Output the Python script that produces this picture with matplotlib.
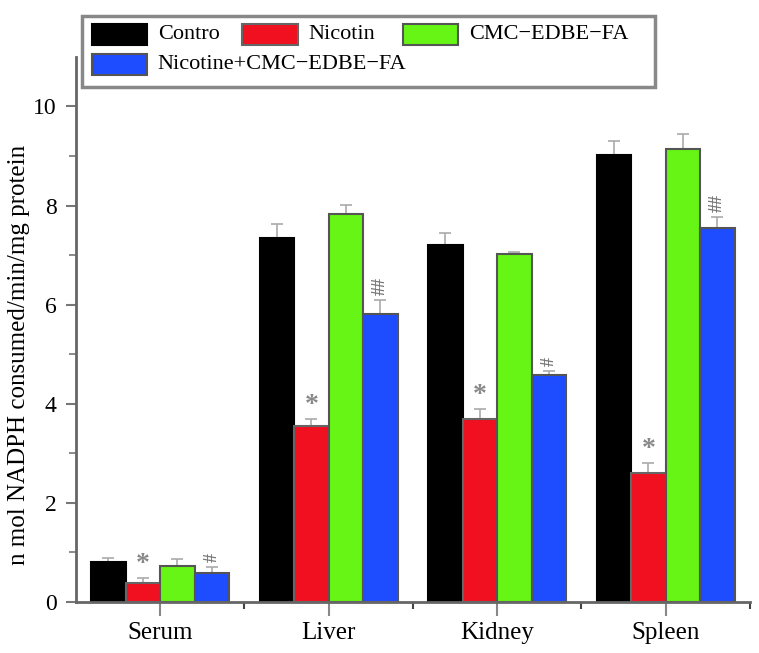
import matplotlib.pyplot as plt
import matplotlib.patches as mpatches
import numpy as np

plt.rcParams['font.family'] = ['Liberation Serif', 'DejaVu Serif']

tissues = ['Serum', 'Liver', 'Kidney', 'Spleen']
groups = ['Contro', 'Nicotin', 'CMC\u2212EDBE\u2212FA', 'Nicotine+CMC\u2212EDBE\u2212FA']
colors = ['#000000', '#f01020', '#66f514', '#1e4cff']

control = [0.80, 7.35, 7.20, 9.02]
nicotin = [0.38, 3.55, 3.70, 2.60]
cmc = [0.72, 7.82, 7.02, 9.15]
nic_cmc = [0.58, 5.82, 4.58, 7.55]

control_err = [0.08, 0.28, 0.25, 0.28]
nicotin_err = [0.10, 0.15, 0.20, 0.20]
cmc_err = [0.15, 0.20, 0.05, 0.30]
nic_cmc_err = [0.12, 0.28, 0.08, 0.22]

nicotin_marks = ['*', '*', '*', '*']
nic_cmc_marks = ['#', '##', '#', '##']

values = [control, nicotin, cmc, nic_cmc]
errors = [control_err, nicotin_err, cmc_err, nic_cmc_err]

fig = plt.figure(figsize=(7.59, 6.53), dpi=100)
ax = fig.add_axes([0.100, 0.078, 0.888, 0.835])

x = np.arange(len(tissues))
w = 0.205
edges = ['#000000', '#666666', '#555555', '#555555']
for i, (vals, errs) in enumerate(zip(values, errors)):
    pos = x + (i - 1.5) * w
    ax.bar(pos, vals, w, color=colors[i], edgecolor=edges[i], linewidth=1.5, zorder=2)
    ax.errorbar(pos, vals, yerr=[np.zeros(len(vals)), errs], fmt='none',
                ecolor='#aaaaaa', elinewidth=1.2, capsize=4, capthick=1.2, zorder=1)

for j in range(len(tissues)):
    px = x[j] - 0.5 * w
    ax.text(px, nicotin[j] + nicotin_err[j] + 0.02, nicotin_marks[j], ha='center',
            va='bottom', fontsize=20, color='#888888', fontweight='bold')
    px = x[j] + 1.5 * w
    ax.text(px, nic_cmc[j] + nic_cmc_err[j] + 0.1, nic_cmc_marks[j], ha='center',
            va='bottom', fontsize=13, color='#777777', rotation=90, fontweight='bold')

ax.set_xlim(-0.5, 3.5)
ax.set_ylim(0, 11)
ax.set_xticks(x)
ax.set_xticklabels(tissues, fontsize=18)
ax.set_xticks(x + 0.5, minor=True)
ax.set_yticks(np.arange(0, 11, 2))
ax.set_yticks(np.arange(1, 11, 2), minor=True)
ax.tick_params(axis='y', labelsize=17, length=7, width=1.5, color='#777777', pad=7)
ax.tick_params(axis='y', which='minor', length=5, width=1.2, color='#777777')
ax.tick_params(axis='x', length=10, width=1.5, color='#888888', pad=4)
ax.tick_params(axis='x', which='minor', length=5, width=1.5, color='#444444')
ax.set_ylabel('n mol NADPH consumed/min/mg protein', fontsize=18)
ax.yaxis.set_label_coords(-0.068, 0.453)

for s in ['top', 'right']:
    ax.spines[s].set_visible(False)
for s in ['left', 'bottom']:
    ax.spines[s].set_color('#666666')
    ax.spines[s].set_linewidth(2)

# legend drawn by hand so the long label can span columns
frame = mpatches.Rectangle((0.108, 0.867), 0.755, 0.108, transform=fig.transFigure,
                           facecolor='white', edgecolor='#888888', linewidth=2.5, zorder=5)
fig.patches.append(frame)
slots = [(0.121, 0.931), (0.319, 0.931), (0.531, 0.931), (0.121, 0.885)]
for (lx, ly), lab, c, ec in zip(slots, groups, colors, edges):
    fig.patches.append(mpatches.Rectangle((lx, ly), 0.073, 0.032, transform=fig.transFigure,
                                          facecolor=c, edgecolor=ec, linewidth=1.5, zorder=6))
    fig.text(lx + 0.087, ly + 0.016, lab, fontsize=16, va='center', zorder=7)

fig.savefig('out.png', dpi=100)
